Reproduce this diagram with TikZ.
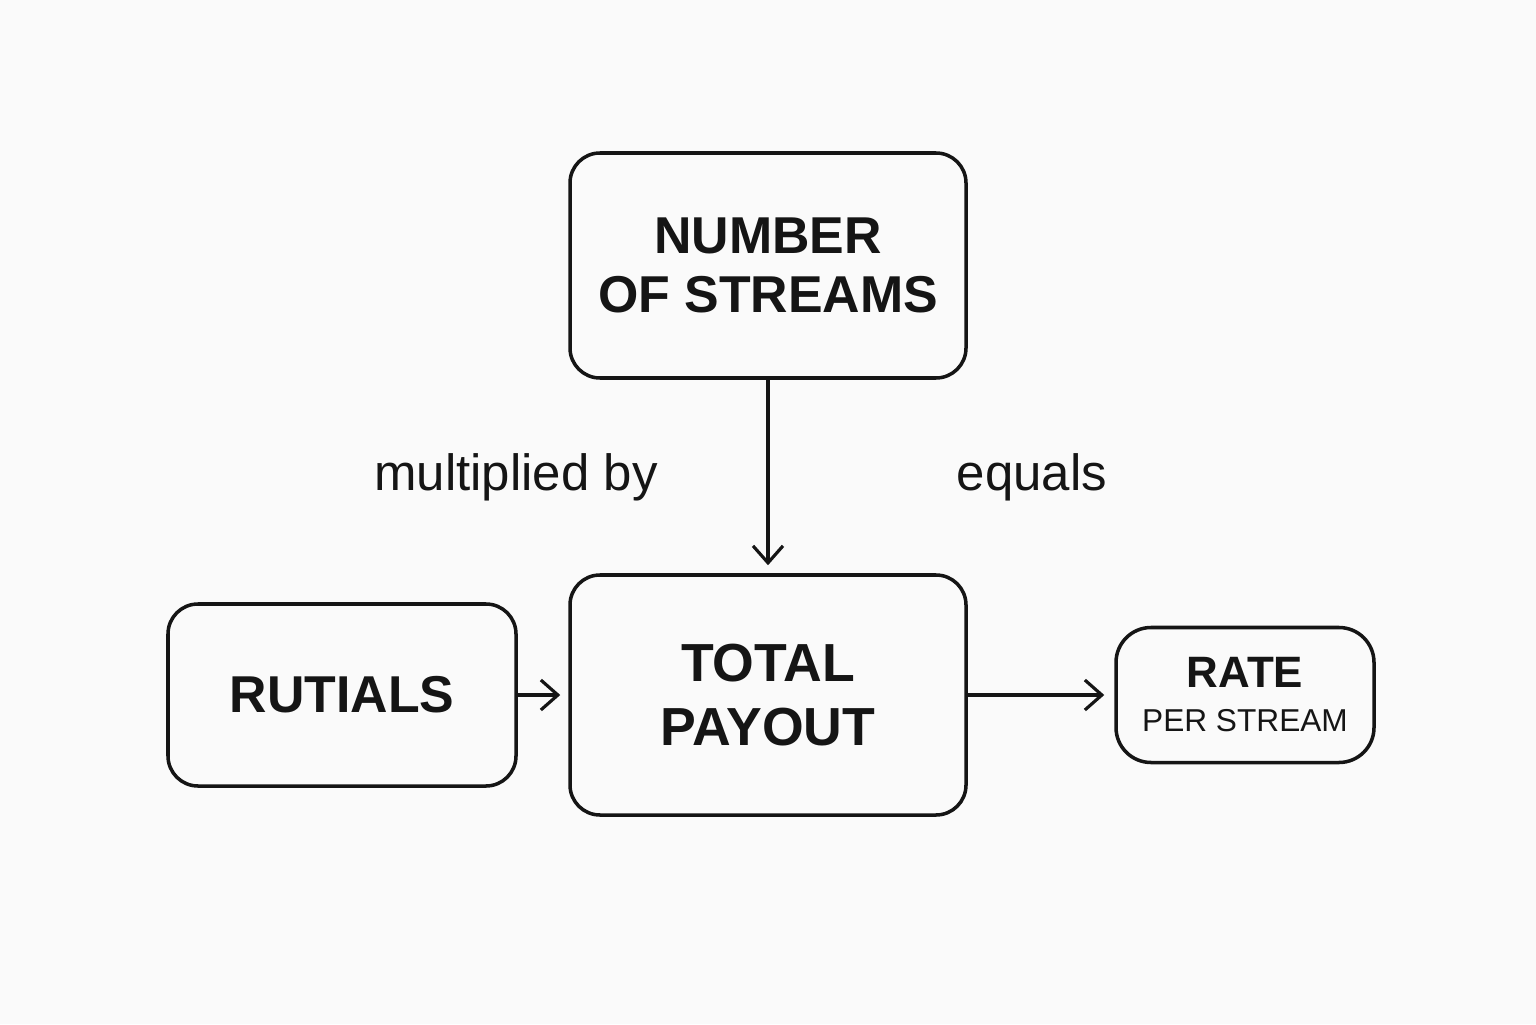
\documentclass[tikz,border=0pt]{standalone}
\usepackage{fontspec}
\setmainfont{Liberation Sans}
\usetikzlibrary{arrows.meta}
\definecolor{paper}{HTML}{FAFAFA}
\definecolor{ink}{HTML}{151515}
\tikzset{
  box/.style={draw=ink, line width=2pt, rounded corners=0.6cm, align=center, inner sep=0pt, text=ink},
  big/.style={font=\fontsize{29.5}{34}\selectfont\bfseries},
  lbl/.style={font=\fontsize{29}{30}\selectfont, text=ink}
}
\begin{document}
\begin{tikzpicture}[>={Straight Barb[length=0.34cm,width=0.6cm]}, line width=1.8pt, draw=ink]
  \fill[paper] (0,0) rectangle (30.72,20.48);
  \useasboundingbox (0,0) rectangle (30.72,20.48);

  \node (streams) at (15.36,15.17) [box,big,minimum width=7.92cm,minimum height=4.5cm]{NUMBER\\OF STREAMS};
  \node (total) at (15.36,6.58) [box,minimum width=7.92cm,minimum height=4.8cm,font=\fontsize{30.5}{36}\selectfont\bfseries]{TOTAL\\PAYOUT};

  \node (rutials) at (6.84,6.58) [box,big,minimum width=6.96cm,minimum height=3.64cm]{RUTIALS};
  \node (rate) at (24.9,6.58) [box,minimum width=5.16cm,minimum height=2.7cm,rounded corners=0.7cm,font=\fontsize{18}{25}\selectfont]{{\fontsize{25}{25}\selectfont\bfseries RATE}\\PER STREAM};

  \node (mult) at (10.32,10.94) [lbl]{multiplied by};
  \node (eq) at (20.64,10.94) [lbl]{equals};

  \draw[ink,line width=1.8pt,->,shorten >=0.16cm] (streams) -- (total);
  \draw[ink,line width=1.8pt,->,shorten >=0.16cm] (rutials) -- (total);
  \draw[ink,line width=1.8pt,->,shorten >=0.2cm] (total) -- (rate);

\end{tikzpicture}
\end{document}
